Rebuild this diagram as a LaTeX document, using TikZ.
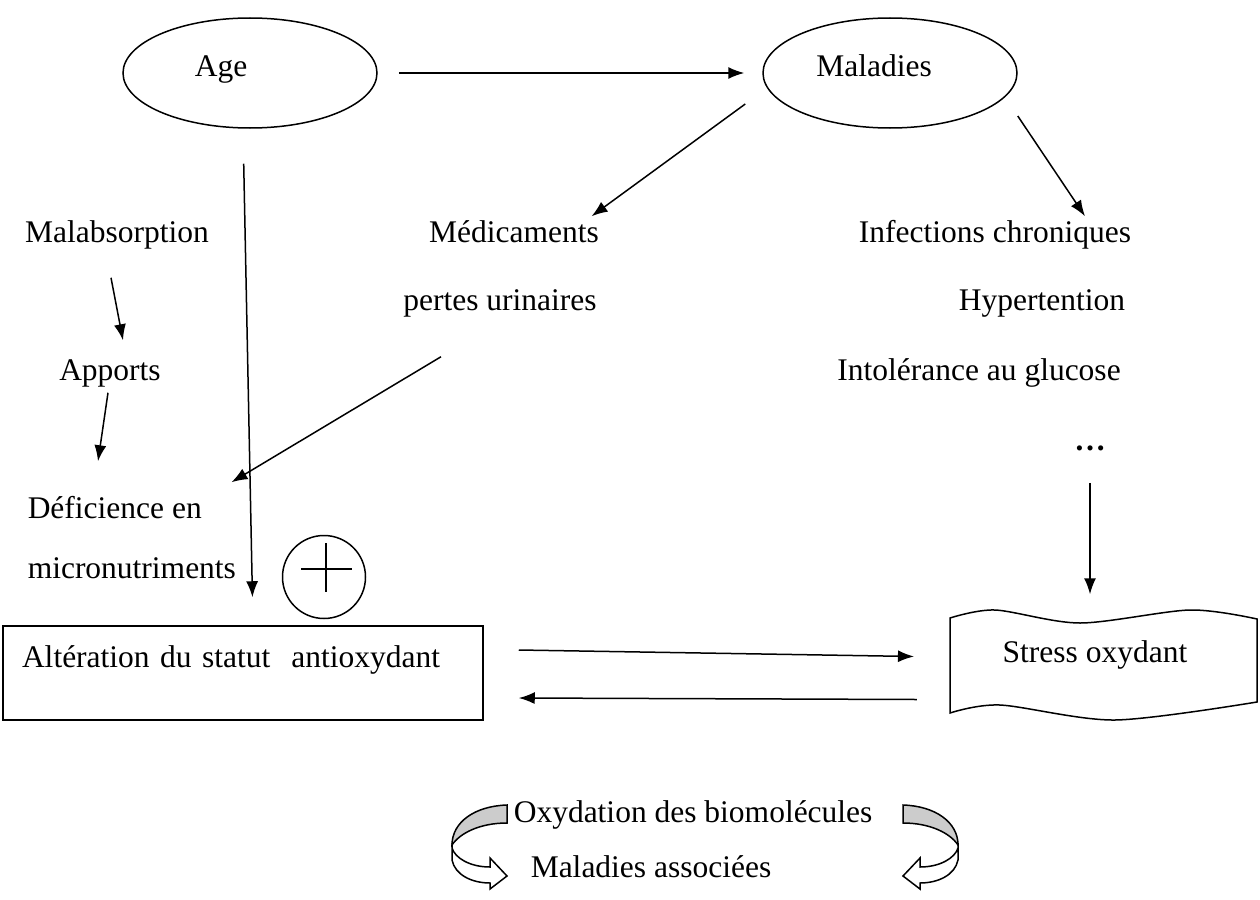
\documentclass[tikz,border=0pt]{standalone}
\usepackage{fontspec}
\setmainfont{Liberation Serif}
\usepackage{tikz}
\usetikzlibrary{
arrows.meta,
shapes.geometric
}

\begin{document}
\begin{tikzpicture}[
x=1pt, y=-1pt,
font=\fontsize{31.5}{38}\selectfont,
line width=1.5pt,
oval/.style={
ellipse,
draw,
minimum width=254pt,
minimum height=110pt,
inner sep=0pt
},
txt/.style={inner sep=0pt, text height=22pt, text depth=7pt, anchor=base},
txtl/.style={txt, anchor=base west},
altbox/.style={
rectangle,
draw,
minimum height=94pt,
text width=442pt,
inner xsep=19pt,
inner ysep=0pt,
text height=22pt,
text depth=34pt,
align=left
},
sign/.style={circle, draw, minimum size=83pt, inner sep=0pt},
arrow/.style={-{Latex[length=16pt,width=12pt]}}
]
\useasboundingbox (0,0) rectangle (1260,899);

\node[oval] (age) at (250,73) {};
\node[txt] (age-t) at (221,77) {Age};
\node[oval] (mal) at (890,73) {};
\node[txt] (mal-t) at (874,77) {Maladies};

\node[txt] (malab) at (117,242) {Malabsorption};
\node[txt] (med) at (514,242) {Médicaments};
\node[txt] (inf) at (995,242) {Infections chroniques};
\node[txt] (uri) at (500,310) {pertes urinaires};
\node[txt] (hyp) at (1042,310) {Hypertention};
\node[txt] (app) at (110,380) {Apports};
\node[txt] (gluc) at (979,380) {Intolérance au glucose};
\node[txt] (dots) at (1090,450) {\textbf{\dots}};
\node[txtl] (def) at (27,518) {Déficience en};
\node[txtl] (micro) at (27,578) {micronutriments};

\node[sign] (plus) at (324,577) {};
\draw ([shift={(-23,-8)}]plus.center) -- ([shift={(28,-8)}]plus.center);
\draw ([shift={(2,-34)}]plus.center) -- ([shift={(2,15)}]plus.center);

\node[altbox] (alt) at (243,673) {Altération du statut~~antioxydant};

\draw plot[smooth] coordinates {(950,618) (995,610) (1080,623) (1190,610) (1257,619)}
  -- plot[smooth] coordinates {(1257,702) (1115,720) (1000,705) (950,713)} -- cycle;
\node[txt] (str) at (1095,662) {Stress oxydant};

\node[txtl] (oxy) at (513,822) {Oxydation des biomolécules};
\node[txtl] (assoc) at (530,877) {Maladies associées};

\foreach \sx/\dx in {1/0, -1/1410} {
  \begin{scope}[xshift=\dx pt, xscale=\sx]
    \filldraw[fill=gray!40] (507,805) .. controls (475,806) and (452,822) .. (452,845)
      .. controls (460,833) and (480,823) .. (507,823) -- cycle;
    \filldraw[fill=white] (452,843) -- (452,860) .. controls (455,875) and (472,883) .. (490,883)
      -- (490,889) -- (507,876) -- (490,858) -- (490,867)
      .. controls (470,867) and (455,858) .. (452,848) -- cycle;
  \end{scope}
}

\draw[arrow, shorten <=21pt, shorten >=18pt] (age.east) -- (mal.west);
\draw[arrow, shorten <=35pt, shorten >=28pt] ([shift={(-7,0)}]age.south) -- ([shift={(10,0)}]alt.north);
\draw[arrow] ([shift={(-17,31)}]mal.west) -- ([shift={(-8,-3)}]med.north east);
\draw[arrow] ([shift={(0,43)}]mal.east) -- ([shift={(90,-3)}]inf.north);
\draw[arrow] ([shift={(-6,28)}]malab.south) -- ([shift={(13,-17)}]app.north);
\draw[arrow] ([shift={(-2,5)}]app.south) -- ([shift={(71,-34)}]def.north west);
\draw[arrow] ([shift={(-59,39)}]uri.south) -- ([shift={(29,-13)}]def.north east);
\draw[arrow] ([shift={(0,25)}]dots.south) -- ([shift={(-5,-45)}]str.north);
\draw[arrow] ([shift={(35,-23)}]alt.east) -- ([shift={(-88,2)}]str.west);
\draw[arrow] ([shift={(-85,45)}]str.west) -- ([shift={(35,25)}]alt.east);

\end{tikzpicture}
\end{document}
